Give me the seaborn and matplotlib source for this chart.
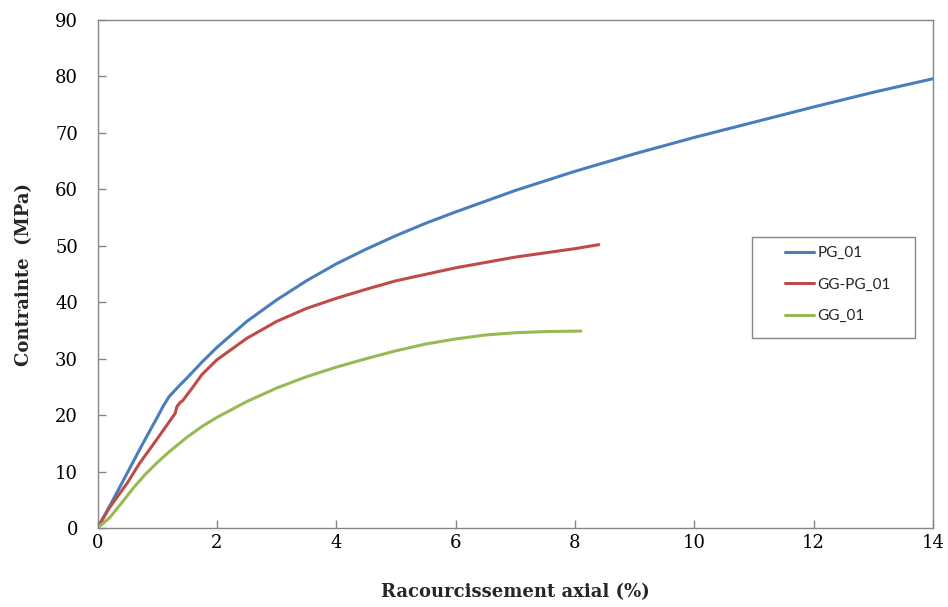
import seaborn as sns
import matplotlib.pyplot as plt
import pandas as pd
from matplotlib.patches import Rectangle

# data (strain %, stress MPa)
pg_x = [0, 0.25, 0.5, 0.75, 1.0, 1.1, 1.2, 1.35, 1.5, 1.75, 2.0, 2.5, 3.0, 3.5, 4.0,
        4.5, 5.0, 5.5, 6.0, 7.0, 8.0, 9.0, 10.0, 11.0, 12.0, 13.0, 14.0]
pg_y = [0, 4.8, 9.8, 14.8, 19.6, 21.6, 23.3, 25.0, 26.6, 29.4, 32.0, 36.6, 40.4, 43.8, 46.8,
        49.4, 51.8, 54.0, 56.0, 59.8, 63.2, 66.3, 69.2, 71.9, 74.6, 77.2, 79.6]

ggpg_x = [0, 0.2, 0.5, 0.7, 1.0, 1.2, 1.3, 1.33, 1.38, 1.43, 1.5, 1.6, 1.75, 2.0, 2.5,
          3.0, 3.5, 4.0, 4.5, 5.0, 6.0, 7.0, 8.0, 8.4]
ggpg_y = [0, 3.6, 8.0, 11.4, 15.8, 18.8, 20.3, 21.5, 22.2, 22.6, 23.6, 25.0, 27.2, 29.8, 33.6,
          36.6, 38.9, 40.7, 42.3, 43.8, 46.1, 48.0, 49.5, 50.2]

gg_x = [0, 0.2, 0.4, 0.6, 0.8, 1.0, 1.2, 1.5, 1.75, 2.0, 2.5, 3.0, 3.5, 4.0, 4.5,
        5.0, 5.5, 6.0, 6.5, 7.0, 7.5, 8.1]
gg_y = [0, 1.8, 4.4, 7.1, 9.5, 11.6, 13.5, 16.1, 18.0, 19.6, 22.4, 24.8, 26.8, 28.5, 30.0,
        31.4, 32.6, 33.5, 34.2, 34.6, 34.8, 34.9]

series = ["PG_01", "GG-PG_01", "GG_01"]
colors = ["#4A7EBB", "#BE4B48", "#98B954"]

df = pd.concat([
    pd.DataFrame({"x": pg_x, "y": pg_y, "serie": series[0]}),
    pd.DataFrame({"x": ggpg_x, "y": ggpg_y, "serie": series[1]}),
    pd.DataFrame({"x": gg_x, "y": gg_y, "serie": series[2]}),
])

sns.set_theme(style="white")
plt.rcParams["font.family"] = ["DejaVu Serif"]

fig = plt.figure(figsize=(9.48, 6.07), dpi=100)
ax = fig.add_axes([0.1029, 0.1301, 0.8813, 0.8369])

sns.lineplot(data=df, x="x", y="y", hue="serie", hue_order=series,
             palette=dict(zip(series, colors)), estimator=None, sort=False,
             linewidth=2.2, ax=ax)

ax.set_xlim(0, 14)
ax.set_ylim(0, 90)
ax.set_xticks(range(0, 15, 2))
ax.set_yticks(range(0, 91, 10))
for s in ax.spines.values():
    s.set_color("#868686")
    s.set_linewidth(1.0)
ax.tick_params(axis="both", direction="in", length=6, width=1, color="#868686",
               labelsize=13, labelcolor="black")
ax.tick_params(axis="x", pad=4)
ax.tick_params(axis="y", pad=14)
ax.tick_params(top=False, right=False, left=True, bottom=True)

ax.set_xlabel("Racourcissement axial (%)", fontsize=13, fontweight="bold", labelpad=23)
ax.set_ylabel("Contrainte  (MPa)", fontsize=13, fontweight="bold", labelpad=16)

# legend box
h, l = ax.get_legend_handles_labels()
ax.legend(h, l, frameon=False, loc="upper left", bbox_to_anchor=(0.823, 0.555),
          prop={"family": "Lato", "size": 11}, handlelength=1.9, handletextpad=0.2,
          labelspacing=1.15, borderaxespad=0, borderpad=0)
ax.add_patch(Rectangle((0.783, 0.374), 0.196, 0.199, transform=ax.transAxes,
                       fill=False, edgecolor="#868686", linewidth=1.0, zorder=5))

fig.savefig("out.png", dpi=100)
